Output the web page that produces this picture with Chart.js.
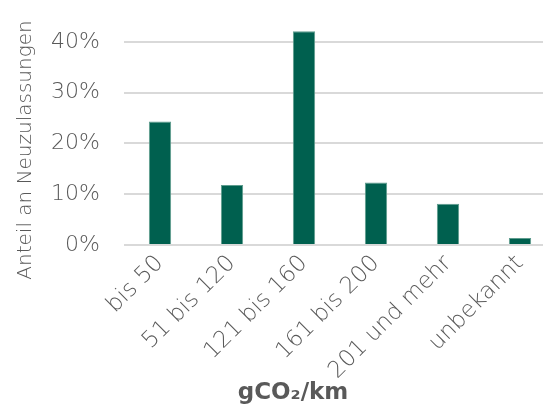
<!DOCTYPE html>
<html>
<head>
<meta charset="utf-8">
<script src="https://cdn.jsdelivr.net/npm/chart.js@4"></script>
<style>
  html, body { margin: 0; padding: 0; background: #fff; overflow: hidden; }
  #wrap { position: absolute; left: 0; top: -36px; width: 556px; height: 444px; }
</style>
</head>
<body>
<div id="wrap"><canvas id="c"></canvas></div>
<script>
// Share of new registrations by CO2 emission class
const categories = ['bis 50', '51 bis 120', '121 bis 160', '161 bis 200', '201 und mehr', 'unbekannt'];
const shares = [24.3, 11.8, 42.1, 12.3, 8.1, 1.4];
const yTicks = [0, 10, 20, 30, 40];
const xTitle = 'gCO₂/km';
const yTitle = 'Anteil an Neuzulassungen';

const green = '#00604f';
const grey = '#595959';
const font = "'DejaVu Sans', sans-serif";
const TOP = 36; // canvas offset above the page

// axis titles, placed relative to the whole figure rather than the plot area
const axisTitlePlugin = {
  id: 'axisTitles',
  afterDraw(chart) {
    const ctx = chart.ctx;
    ctx.save();
    ctx.fillStyle = grey;
    ctx.textAlign = 'center';
    ctx.textBaseline = 'middle';
    ctx.font = 'bold 23px ' + font;
    ctx.fillText(xTitle, 293, TOP + 393);
    ctx.translate(26, TOP + 150);
    ctx.rotate(-Math.PI / 2);
    ctx.font = '300 20px ' + font;
    ctx.fillText(yTitle, 0, 0);
    ctx.restore();
  }
};

new Chart(document.getElementById('c'), {
  type: 'bar',
  data: {
    labels: categories,
    datasets: [{
      data: shares,
      backgroundColor: green,
      borderColor: '#5e9c8e',
      borderWidth: 1,
      barPercentage: 0.31,
      categoryPercentage: 1
    }]
  },
  plugins: [axisTitlePlugin],
  options: {
    responsive: true,
    maintainAspectRatio: false,
    animation: false,
    layout: { padding: 0 },
    plugins: { legend: { display: false }, tooltip: { enabled: false } },
    scales: {
      x: {
        afterFit: s => { s.height = 163; },
        grid: { display: false },
        border: { display: false },
        ticks: {
          color: grey,
          font: { family: font, size: 23, weight: 300 },
          minRotation: 45,
          maxRotation: 45,
          padding: -3
        }
      },
      y: {
        min: 0,
        max: 48,
        afterBuildTicks: s => { s.ticks = yTicks.map(v => ({ value: v })); },
        afterFit: s => { s.width = 124; },
        grid: { color: '#d9d9d9', lineWidth: 2, drawTicks: false },
        border: { display: false },
        ticks: {
          color: grey,
          font: { family: font, size: 22, weight: 300 },
          padding: 24,
          callback: v => v + '%'
        }
      }
    }
  }
});
</script>
</body>
</html>
